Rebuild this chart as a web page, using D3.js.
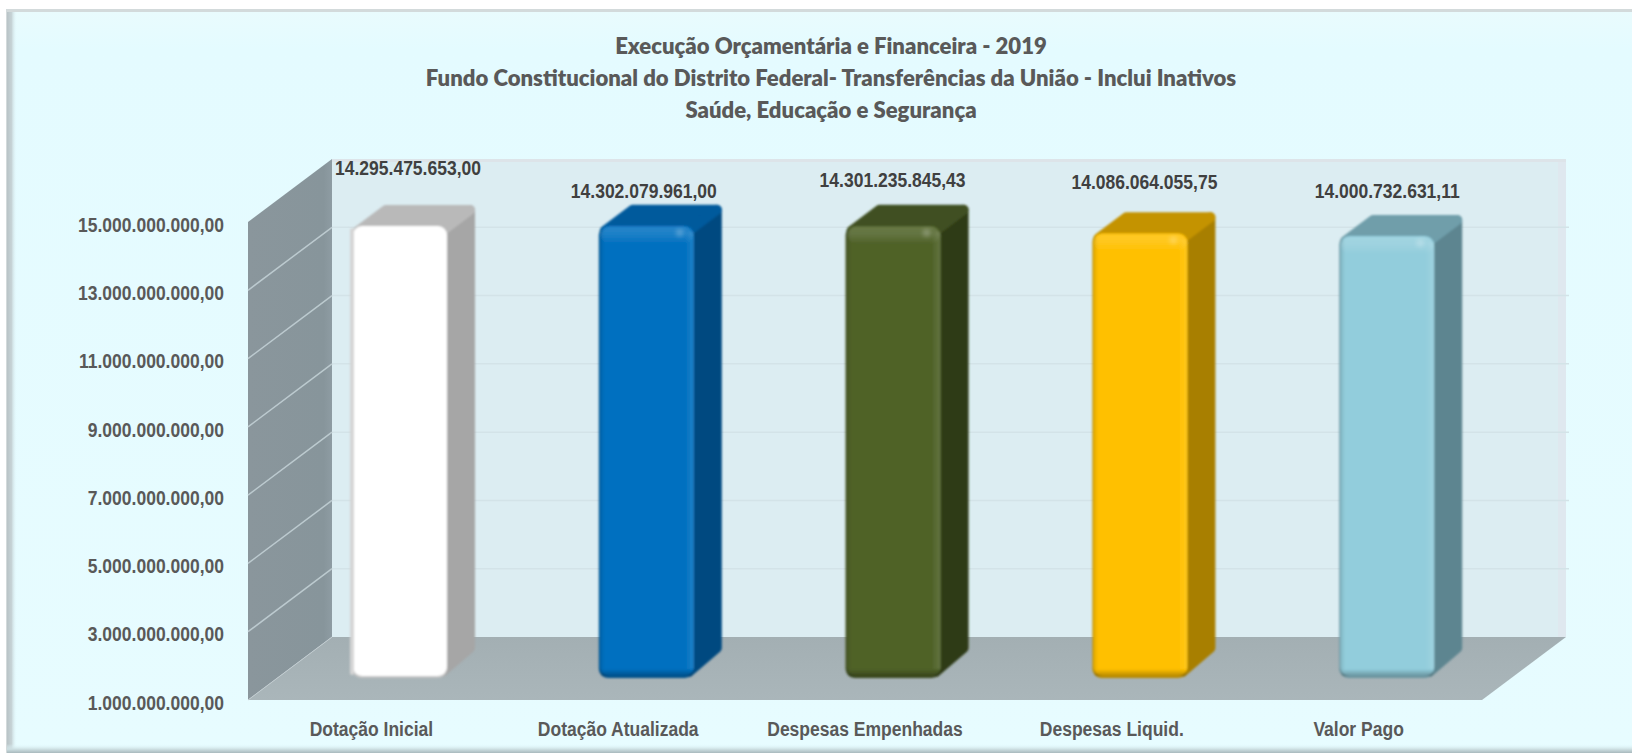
<!DOCTYPE html>
<html><head><meta charset="utf-8">
<script src="https://cdn.jsdelivr.net/npm/d3@7"></script>
<style>
html,body{margin:0;padding:0;background:#fff;overflow:hidden}
svg{display:block}
text{font-family:"Liberation Sans",Arial,sans-serif;font-weight:700}
</style></head><body>
<svg id="c" width="1632" height="753"></svg>
<script>
const titleLines = ["Execução Orçamentária e Financeira - 2019",
  "Fundo Constitucional do Distrito Federal- Transferências da União - Inclui Inativos",
  "Saúde, Educação e Segurança"];
const categories = ["Dotação Inicial","Dotação Atualizada","Despesas Empenhadas","Despesas Liquid.","Valor Pago"];
const values = [14295475653.00,14302079961.00,14301235845.43,14086064055.75,14000732631.11];
const tickValues = [1e9,3e9,5e9,7e9,9e9,11e9,13e9,15e9];
const frontColors = ["#ffffff","#0070c0","#4f6228","#ffc000","#92cddc"];
const topColors   = ["#b9b9b9","#005a9c","#3f4f20","#c49300","#6f9eaa"];
const sideColors  = ["#a6a6a6","#004a80","#2f3b18","#a87f00","#5d8590"];
const labelShift  = [[-6,-77],[-17,-54],[-15,-65],[-10,-70],[-14,-64]];

const svg = d3.select("#c"), W = 1632, H = 753;
const x = d3.scaleBand().domain(categories).range([248,1482]).padding(0);
const y = d3.scaleLinear().domain([1e9,15e9]).range([700,222]);
const depth = {dx:84, dy:-63};
const barPlane = {dx:28.6, dy:-23};
const barDepth = {dx:28, dy:-21};
const barW = 94, topPad = 3, narrow = 0.875;
const loc = d3.formatLocale({decimal:",",thousands:".",grouping:[3],currency:["R$",""]});
const fmt = loc.format(",.2f");
const defs = svg.append("defs");
const squeeze = sel => sel.each(function(){
  const len=this.getComputedTextLength();
  d3.select(this).attr("textLength",len*narrow).attr("lengthAdjust","spacingAndGlyphs");
});

function lg(id,x2,y2,stops){
  const g=defs.append("linearGradient").attr("id",id).attr("x1",0).attr("y1",0).attr("x2",x2).attr("y2",y2);
  stops.forEach(s=>g.append("stop").attr("offset",s[0]).attr("stop-color",s[1]).attr("stop-opacity",s[2]===undefined?1:s[2]));
}
defs.append("filter").attr("id","soft").attr("x","-10%").attr("y","-10%").attr("width","120%").attr("height","120%")
  .append("feGaussianBlur").attr("stdDeviation",0.8);
defs.append("filter").attr("id","soft2").attr("x","-50%").attr("y","-50%").attr("width","200%").attr("height","200%")
  .append("feGaussianBlur").attr("stdDeviation",2);
lg("panel",0,1,[[0,"#e9fbfd"],[0.05,"#e4fbff"],[1,"#e7fcff"]]);
lg("leftB",1,0,[[0,"#b9c3c6"],[0.45,"#c6d3d6"],[1,"#e4fbff",0]]);
lg("botB",0,1,[[0,"#e4fbff",0],[0.6,"#cbdde0"],[1,"#a9b9bd"]]);
lg("wall",1,0,[[0,"#8a969c"],[0.9,"#87959b"],[1,"#8e9ca3"]]);
lg("floorG",0,1,[[0,"#a3afb3"],[1,"#aab6ba"]]);
lg("hiTop",0,1,[[0,"#ffffff",0.14],[0.4,"#ffffff",0.12],[1,"#ffffff",0]]);
lg("loBot",0,1,[[0,"#000000",0],[1,"#000000",0.28]]);
lg("edgeL",1,0,[[0,"#000000",0.12],[1,"#000000",0]]);
lg("edgeR",1,0,[[0,"#ffffff",0],[1,"#ffffff",0.12]]);

// frame
svg.append("rect").attr("width",W).attr("height",H).attr("fill","#ffffff");
svg.append("rect").attr("x",6).attr("y",9).attr("width",W-6).attr("height",H-9).attr("fill","#d3dadb");
svg.append("rect").attr("x",8).attr("y",12).attr("width",W-8).attr("height",H-12).attr("fill","url(#panel)");
svg.append("rect").attr("x",7).attr("y",12).attr("width",10).attr("height",H-12).attr("fill","url(#leftB)");
svg.append("rect").attr("x",7).attr("y",744).attr("width",W-7).attr("height",9).attr("fill","url(#botB)");

// title
svg.append("g").selectAll("text").data(titleLines).join("text")
  .attr("x",831).attr("y",(d,i)=>54+i*32).attr("text-anchor","middle")
  .style("font-family","Lato, 'Open Sans', sans-serif").style("font-size","22.1px").style("font-weight",800)
  .attr("fill","#595959").text(d=>d);

const x0=x.range()[0], x1=x.range()[1];
const px=(a,v)=>[a+depth.dx, y(v)+depth.dy];
const [vMin,vMax]=y.domain();
const poly=(pts)=>"M"+pts.map(p=>p.join(",")).join("L")+"Z";

// back wall
svg.append("path").attr("d",poly([px(x0,vMin),px(x1,vMin),px(x1,vMax),px(x0,vMax)])).attr("fill","#dcedf2");
svg.append("path").attr("d",poly([px(x1-8,vMin),px(x1,vMin),px(x1,vMax),px(x1-8,vMax)])).attr("fill","#dfe8ef");
svg.append("path").attr("d",poly([px(x0,vMax),px(x1,vMax),[px(x1,vMax)[0],px(x1,vMax)[1]+3],[px(x0,vMax)[0],px(x0,vMax)[1]+3]])).attr("fill","#dde4e9");
// side wall
svg.append("path").attr("d",poly([[x0,y(vMin)],px(x0,vMin),px(x0,vMax),[x0,y(vMax)]])).attr("fill","url(#wall)");
// gridlines
const grid = tickValues.filter(t=>t>vMin && t<vMax);
svg.append("g").selectAll("line").data(grid).join("line")
  .attr("x1",px(x0,vMin)[0]).attr("x2",px(x1,vMin)[0]+3).attr("y1",d=>px(x0,d)[1]).attr("y2",d=>px(x0,d)[1])
  .attr("stroke","#d3e3e8").attr("stroke-width",1.5);
svg.append("g").selectAll("line").data(grid).join("line")
  .attr("x1",x0).attr("x2",px(x0,vMin)[0]).attr("y1",d=>y(d)).attr("y2",d=>px(x0,d)[1])
  .attr("stroke","#bccacf").attr("stroke-width",1.5);
// floor
svg.append("path").attr("d",poly([[x0,y(vMin)],[x1,y(vMin)],px(x1,vMin),px(x0,vMin)])).attr("fill","url(#floorG)");
svg.append("line").attr("x1",x0).attr("y1",y(vMin)).attr("x2",px(x0,vMin)[0]).attr("y2",px(x0,vMin)[1]).attr("stroke","#c2ccd0").attr("stroke-width",1);

// bars
const bars = svg.append("g").selectAll("g").data(categories).join("g")
  .attr("transform",(c)=>`translate(${x(c)+x.bandwidth()/2-barW/2+barPlane.dx},${barPlane.dy})`);
bars.each(function(c,i){
  const g=d3.select(this), vy=y(values[i]), top=vy+topPad, bot=y(vMin), r=9, bd=barDepth;
  const ins=5;
  const hold=g.append("g").attr("filter","url(#soft)");
  hold.append("path").attr("d",poly([[barW-ins,top+ins],[barW+bd.dx-ins,top+bd.dy+ins],[barW+bd.dx-ins,bot+bd.dy-ins-3],[barW-ins,bot-ins]]))
    .attr("fill",sideColors[i]).attr("stroke",sideColors[i]).attr("stroke-width",ins*2).attr("stroke-linejoin","round");
  hold.append("path").attr("d",poly([[ins,top+ins],[bd.dx+ins,top+bd.dy+ins],[barW+bd.dx-ins,top+bd.dy+ins],[barW-ins,top+ins]]))
    .attr("fill",topColors[i]).attr("stroke",topColors[i]).attr("stroke-width",ins*2).attr("stroke-linejoin","round");
  hold.append("rect").attr("x",-1).attr("y",top).attr("width",barW+1).attr("height",bot-top+1).attr("rx",r).attr("fill",i===0?"#c4c4c4":d3.color(frontColors[i]).darker(0.9));
  hold.append("rect").attr("x",0).attr("y",top).attr("width",barW).attr("height",bot-top-1).attr("rx",r).attr("fill",frontColors[i]);
  if(i>0){
    hold.append("rect").attr("x",0).attr("y",top+4).attr("width",5).attr("height",bot-top-10).attr("fill","url(#edgeL)");
    hold.append("rect").attr("x",barW-9).attr("y",top+6).attr("width",9).attr("height",bot-top-14).attr("fill","url(#edgeR)");
    hold.append("rect").attr("x",1).attr("y",top+1).attr("width",barW-2).attr("height",17).attr("rx",r).attr("fill","url(#hiTop)");
    g.append("circle").attr("cx",barW-14).attr("cy",top+7).attr("r",4).attr("fill","#ffffff").attr("opacity",0.22).attr("filter","url(#soft2)");
    hold.append("rect").attr("x",1).attr("y",bot-8).attr("width",barW-2).attr("height",7).attr("rx",4).attr("fill","url(#loBot)");
  } else {
    hold.append("rect").attr("x",-3).attr("y",top+2).attr("width",4).attr("height",bot-top-4).attr("rx",2).attr("fill","#d5d5d5");
  }
  g.append("text").attr("x",barW/2+labelShift[i][0]+14).attr("y",vy+labelShift[i][1]+29)
    .attr("text-anchor","middle").style("font-size","20px").attr("fill","#404040").text(fmt(values[i])).call(squeeze);
});

// axes
const axL=svg.append("g").attr("transform","translate(224,0)")
  .call(d3.axisLeft(y).tickValues(tickValues).tickSize(0).tickPadding(0).tickFormat(fmt));
axL.select(".domain").remove();
axL.selectAll("text").style("font-size","20px").style("font-family",'"Liberation Sans"').style("font-weight",700).attr("fill","#595959").attr("dy","0.36em").attr("y",2).call(squeeze);
const axB=svg.append("g").attr("transform","translate(0,728.5)")
  .call(d3.axisBottom(x).tickSize(0).tickPadding(0));
axB.select(".domain").remove();
axB.selectAll("text").style("font-size","20px").style("font-family",'"Liberation Sans"').style("font-weight",700).attr("fill","#595959").attr("dy","0.36em").call(squeeze);
</script>
</body></html>
